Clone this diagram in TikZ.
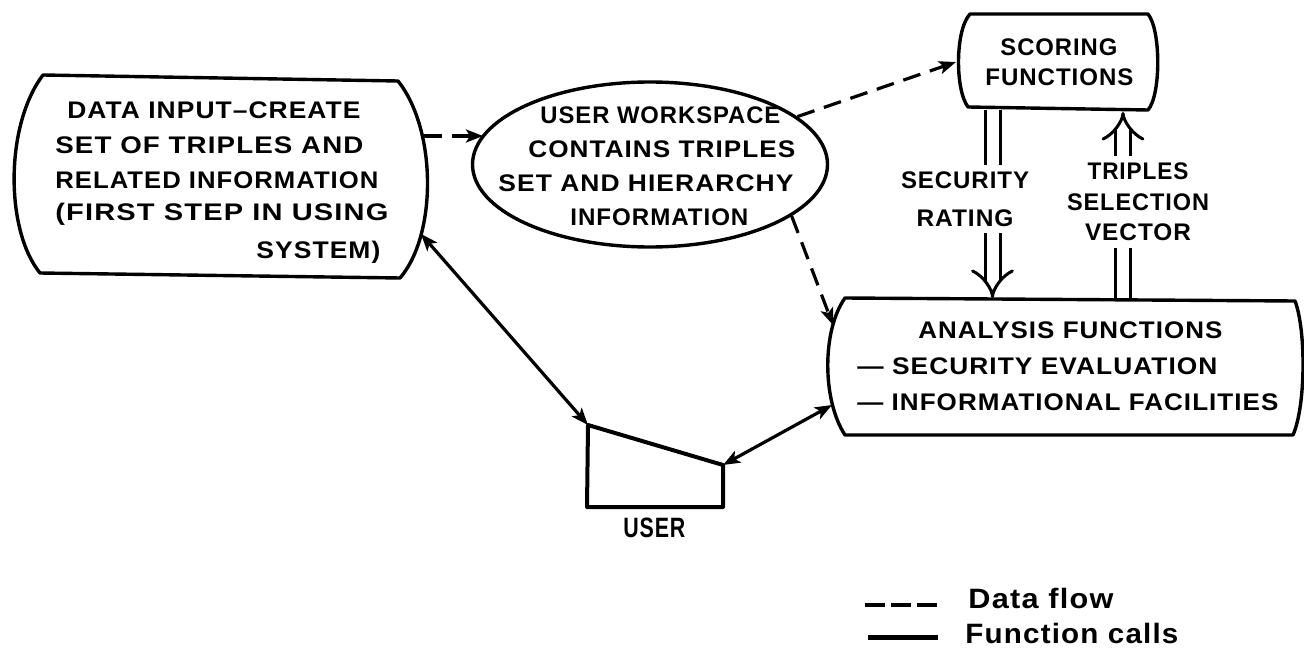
\documentclass[tikz,border=0pt]{standalone}
\usepackage{fontspec}
\usepackage{graphicx}
\newfontfamily\lettering{Liberation Sans}[LetterSpace=4]
\usetikzlibrary{arrows.meta,shapes.geometric}
% stretch a line of lettering to a given width, keeping its height
\newcommand\fitto[2]{\resizebox{#1}{\height}{#2}}

\begin{document}
\begin{tikzpicture}[x=0.5pt,y=-0.5pt,
  >={Stealth[length=8.5pt,width=6.5pt,inset=2pt]},
  outline/.style={line width=1.7pt, line join=round, line cap=round},
  txt/.style={inner sep=0pt, anchor=base west,
    font=\lettering\bfseries\fontsize{12}{14}\selectfont},
  lbl/.style={fill=white, inner xsep=2pt, align=center},
  legtxt/.style={inner sep=0pt, anchor=base west,
    font=\lettering\bfseries\fontsize{14}{16}\selectfont},
  flow/.style={line width=1.6pt, dash pattern=on 9pt off 5pt, ->},
  call/.style={line width=1.6pt, <->},
  pass/.style={double, line width=1.5pt, double distance=6pt,
    -{Implies[scale=1.5]}},
]
\useasboundingbox (0,0) rectangle (1304,652);

% ---- data input box
\draw[outline] (43,75) -- (398,81) .. controls (437,130) and (437,235) .. (400,278)
  -- (40,273) .. controls (5,230) and (5,125) .. cycle;
\node[txt] (d1) at (67,118.5)  {\fitto{146.5pt}{DATA INPUT–CREATE}};
\node[txt] (d2) at (55,153.5)  {\fitto{154pt}{SET OF TRIPLES AND}};
\node[txt] (d3) at (55,188.5)  {\fitto{161.5pt}{RELATED INFORMATION}};
\node[txt] (d4) at (55,220.5)  {\fitto{166.5pt}{(FIRST STEP IN USING}};
\node[txt] (d5) at (256,258.5) {\fitto{62pt}{SYSTEM)}};

% ---- user workspace
\node[outline, draw, ellipse, minimum width=177.5pt, minimum height=82.5pt,
  inner sep=0pt] (ws) at (650,164.5) {};
\node[txt] (w1) at (540,123.5) {\fitto{120pt}{USER WORKSPACE}};
\node[txt] (w2) at (528,157.5) {\fitto{133.5pt}{CONTAINS TRIPLES}};
\node[txt] (w3) at (498,191.5) {\fitto{147.5pt}{SET AND HIERARCHY}};
\node[txt] (w4) at (570,225.5) {\fitto{89pt}{INFORMATION}};

% ---- scoring functions
\draw[outline] (970,14) -- (1148,14) .. controls (1161,30) and (1161,95) .. (1148,110)
  -- (968,107) .. controls (955,90) and (955,30) .. cycle;
\node[txt] (s1) at (1000,55.5) {\fitto{58.5pt}{SCORING}};
\node[txt] (s2) at (985,85.5)  {\fitto{74pt}{FUNCTIONS}};

% ---- analysis functions
\draw[outline] (845,298) -- (1295,301) .. controls (1306,330) and (1306,405) .. (1293,435)
  -- (845,435) .. controls (822,400) and (822,330) .. cycle;
\node[txt] (a1) at (918,338.5) {\fitto{152pt}{ANALYSIS FUNCTIONS}};
\node[txt] (a2) at (857,374.5) {\fitto{180pt}{— SECURITY EVALUATION}};
\node[txt] (a3) at (857,410.5) {\fitto{210.5pt}{— INFORMATIONAL FACILITIES}};

% ---- user
\draw[outline, line width=2pt] (588,425) -- (723,465) -- (723,507) -- (587,507) -- cycle;
\node[txt, font=\lettering\bfseries\fontsize{14}{16}\selectfont] (u1) at (623,537)
  {\fitto{31pt}{USER}};

% ---- connection points
\coordinate (dataA)  at (424,136);
\coordinate (wsA)    at (483,136);
\coordinate (scoreA) at (956,62);
\coordinate (anaA)   at (833,325);
\coordinate (dataB)  at (421,234);
\coordinate (userA)  at (588,425);
\coordinate (userB)  at (723,465);
\coordinate (anaB)   at (832,405);
\coordinate (scoreS) at (992.5,110);
\coordinate (anaS)   at (992.5,298);
\coordinate (anaT)   at (1123,298);
\coordinate (scoreT) at (1123,112);

% ---- data flow
\draw[flow] (dataA) -- (wsA);
\draw[flow] (ws.18) -- (scoreA);
\draw[flow] (ws.-20) -- (anaA);

% ---- function calls
\draw[call] (dataB) -- (userA);
\draw[call] (userB) -- (anaB);

% ---- values passed between scoring and analysis
\draw[pass] (scoreS) -- (anaS);
\node[lbl, inner ysep=3.25pt, font=\lettering\bfseries\fontsize{12}{19}\selectfont]
  (secr) at (965,199) {\fitto{64pt}{SECURITY}\\\fitto{48.5pt}{RATING}};
\draw[pass] (anaT) -- (scoreT);
\node[lbl, inner ysep=3.5pt, font=\lettering\bfseries\fontsize{12}{15.25}\selectfont]
  (tsv) at (1138,202) {\fitto{50.5pt}{TRIPLES}\\\fitto{71pt}{SELECTION}\\\fitto{53pt}{VECTOR}};

% ---- legend
\coordinate (lgA) at (865,605);
\coordinate (lgB) at (938,605);
\coordinate (lgC) at (868,637);
\coordinate (lgD) at (938,637);
\draw[line width=2pt, dash pattern=on 10pt off 3pt] (lgA) -- (lgB);
\draw[line width=2.5pt] (lgC) -- (lgD);
\node[legtxt] (lg1) at (968,608) {\fitto{72.5pt}{Data flow}};
\node[legtxt] (lg2) at (965,643) {\fitto{106.5pt}{Function calls}};
\end{tikzpicture}
\end{document}
